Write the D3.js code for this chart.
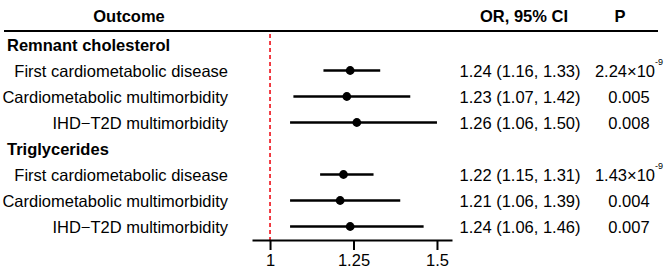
<!DOCTYPE html>
<html>
<head>
<meta charset="utf-8">
<script src="https://cdn.jsdelivr.net/npm/d3@7"></script>
<style>
  body { margin: 0; background: #fff; }
  svg { display: block; font-family: 'Liberation Sans', Arial, sans-serif; }
  .axis path, .axis line { stroke: #000; stroke-width: 2px; }
  .axis text { font-size: 16.5px; fill: #000; }
</style>
</head>
<body>
<div id="chart"></div>
<script>
// Chart data
var groups = ['Remnant cholesterol', 'Triglycerides'];
var outcomes = ['First cardiometabolic disease', 'Cardiometabolic multimorbidity', 'IHD\u2212T2D multimorbidity'];
var orValues = [[1.24, 1.23, 1.26], [1.22, 1.21, 1.24]];
var ciLower = [[1.16, 1.07, 1.06], [1.15, 1.06, 1.06]];
var ciUpper = [[1.33, 1.42, 1.50], [1.31, 1.39, 1.46]];
var pMantissa = [['2.24', '0.005', '0.008'], ['1.43', '0.004', '0.007']];
var pExponent = [['-9', null, null], ['-9', null, null]];
var xTicks = [1, 1.25, 1.5];
var xTickLabels = ['1', '1.25', '1.5'];
var headers = ['Outcome', 'OR, 95% CI', 'P'];

var W = 666, H = 272;
var fmt = d3.format('.2f');

// Flatten rows: a group header followed by its outcomes
var rows = [];
groups.forEach(function(g, gi) {
  rows.push({type: 'group', label: g});
  outcomes.forEach(function(o, oi) {
    rows.push({
      type: 'item', label: o,
      or: orValues[gi][oi], lo: ciLower[gi][oi], hi: ciUpper[gi][oi],
      p: pMantissa[gi][oi], exp: pExponent[gi][oi]
    });
  });
});

var svg = d3.select('#chart').append('svg')
  .attr('width', W)
  .attr('height', H);

var y = d3.scaleBand()
  .domain(d3.range(rows.length))
  .range([31.5, 239.5]);
var x = d3.scaleLinear()
  .domain([0.946, 1.545])
  .range([252, 452]);

function yc(i) { return y(i) + y.bandwidth() / 2; }

// Header
var headX = [129, 524, 620];
svg.selectAll('.head').data(headers).enter().append('text')
  .attr('class', 'head')
  .attr('x', function(d, i) { return headX[i]; })
  .attr('y', 21.5)
  .attr('text-anchor', 'middle')
  .style('font-size', '16.5px')
  .style('font-weight', 'bold')
  .text(function(d) { return d; });

svg.append('line')
  .attr('x1', 4).attr('x2', 658)
  .attr('y1', 31).attr('y2', 31)
  .attr('stroke', '#000')
  .attr('stroke-width', 2);

// Reference line at OR = 1
svg.append('line')
  .attr('x1', x(1)).attr('x2', x(1))
  .attr('y1', 34).attr('y2', 240)
  .attr('stroke', '#ee1c25')
  .attr('stroke-width', 1.7)
  .attr('stroke-dasharray', '4,3');

// Row labels
svg.selectAll('.label').data(rows).enter().append('text')
  .attr('class', 'label')
  .attr('x', function(d) { return d.type === 'group' ? 7 : 228; })
  .attr('y', function(d, i) { return yc(i) + 6; })
  .attr('text-anchor', function(d) { return d.type === 'group' ? 'start' : 'end'; })
  .style('font-size', '16.5px')
  .style('font-weight', function(d) { return d.type === 'group' ? 'bold' : 'normal'; })
  .text(function(d) { return d.label; });

var items = rows.map(function(d, i) { d.i = i; return d; })
  .filter(function(d) { return d.type === 'item'; });

// CI lines and points
svg.selectAll('.ci').data(items).enter().append('line')
  .attr('class', 'ci')
  .attr('x1', function(d) { return x(d.lo); })
  .attr('x2', function(d) { return x(d.hi); })
  .attr('y1', function(d) { return yc(d.i); })
  .attr('y2', function(d) { return yc(d.i); })
  .attr('stroke', '#000')
  .attr('stroke-width', 2.5);

svg.selectAll('.pt').data(items).enter().append('circle')
  .attr('class', 'pt')
  .attr('cx', function(d) { return x(d.or); })
  .attr('cy', function(d) { return yc(d.i); })
  .attr('r', 4.4)
  .attr('fill', '#000');

// OR text
svg.selectAll('.ortxt').data(items).enter().append('text')
  .attr('class', 'ortxt')
  .attr('x', 520)
  .attr('y', function(d) { return yc(d.i) + 6; })
  .attr('text-anchor', 'middle')
  .style('font-size', '16.5px')
  .text(function(d) { return fmt(d.or) + ' (' + fmt(d.lo) + ', ' + fmt(d.hi) + ')'; });

// P text
var pt = svg.selectAll('.ptxt').data(items).enter().append('text')
  .attr('class', 'ptxt')
  .attr('x', 629)
  .attr('y', function(d) { return yc(d.i) + 6; })
  .attr('text-anchor', 'middle')
  .style('font-size', '16.5px');
pt.append('tspan')
  .text(function(d) { return d.exp ? d.p + '\u00d710' : d.p; });
pt.filter(function(d) { return d.exp; }).append('tspan')
  .attr('dy', -12)
  .style('font-size', '9px')
  .text(function(d) { return d.exp; });

// X axis
var xAxis = d3.axisBottom(x)
  .tickValues(xTicks)
  .tickSize(10)
  .tickSizeOuter(0)
  .tickPadding(4)
  .tickFormat(function(d, i) { return xTickLabels[i]; });

svg.append('g')
  .attr('class', 'axis')
  .attr('transform', 'translate(0,240)')
  .call(xAxis)
  .selectAll('text').attr('font-family', null);
</script>
</body>
</html>
